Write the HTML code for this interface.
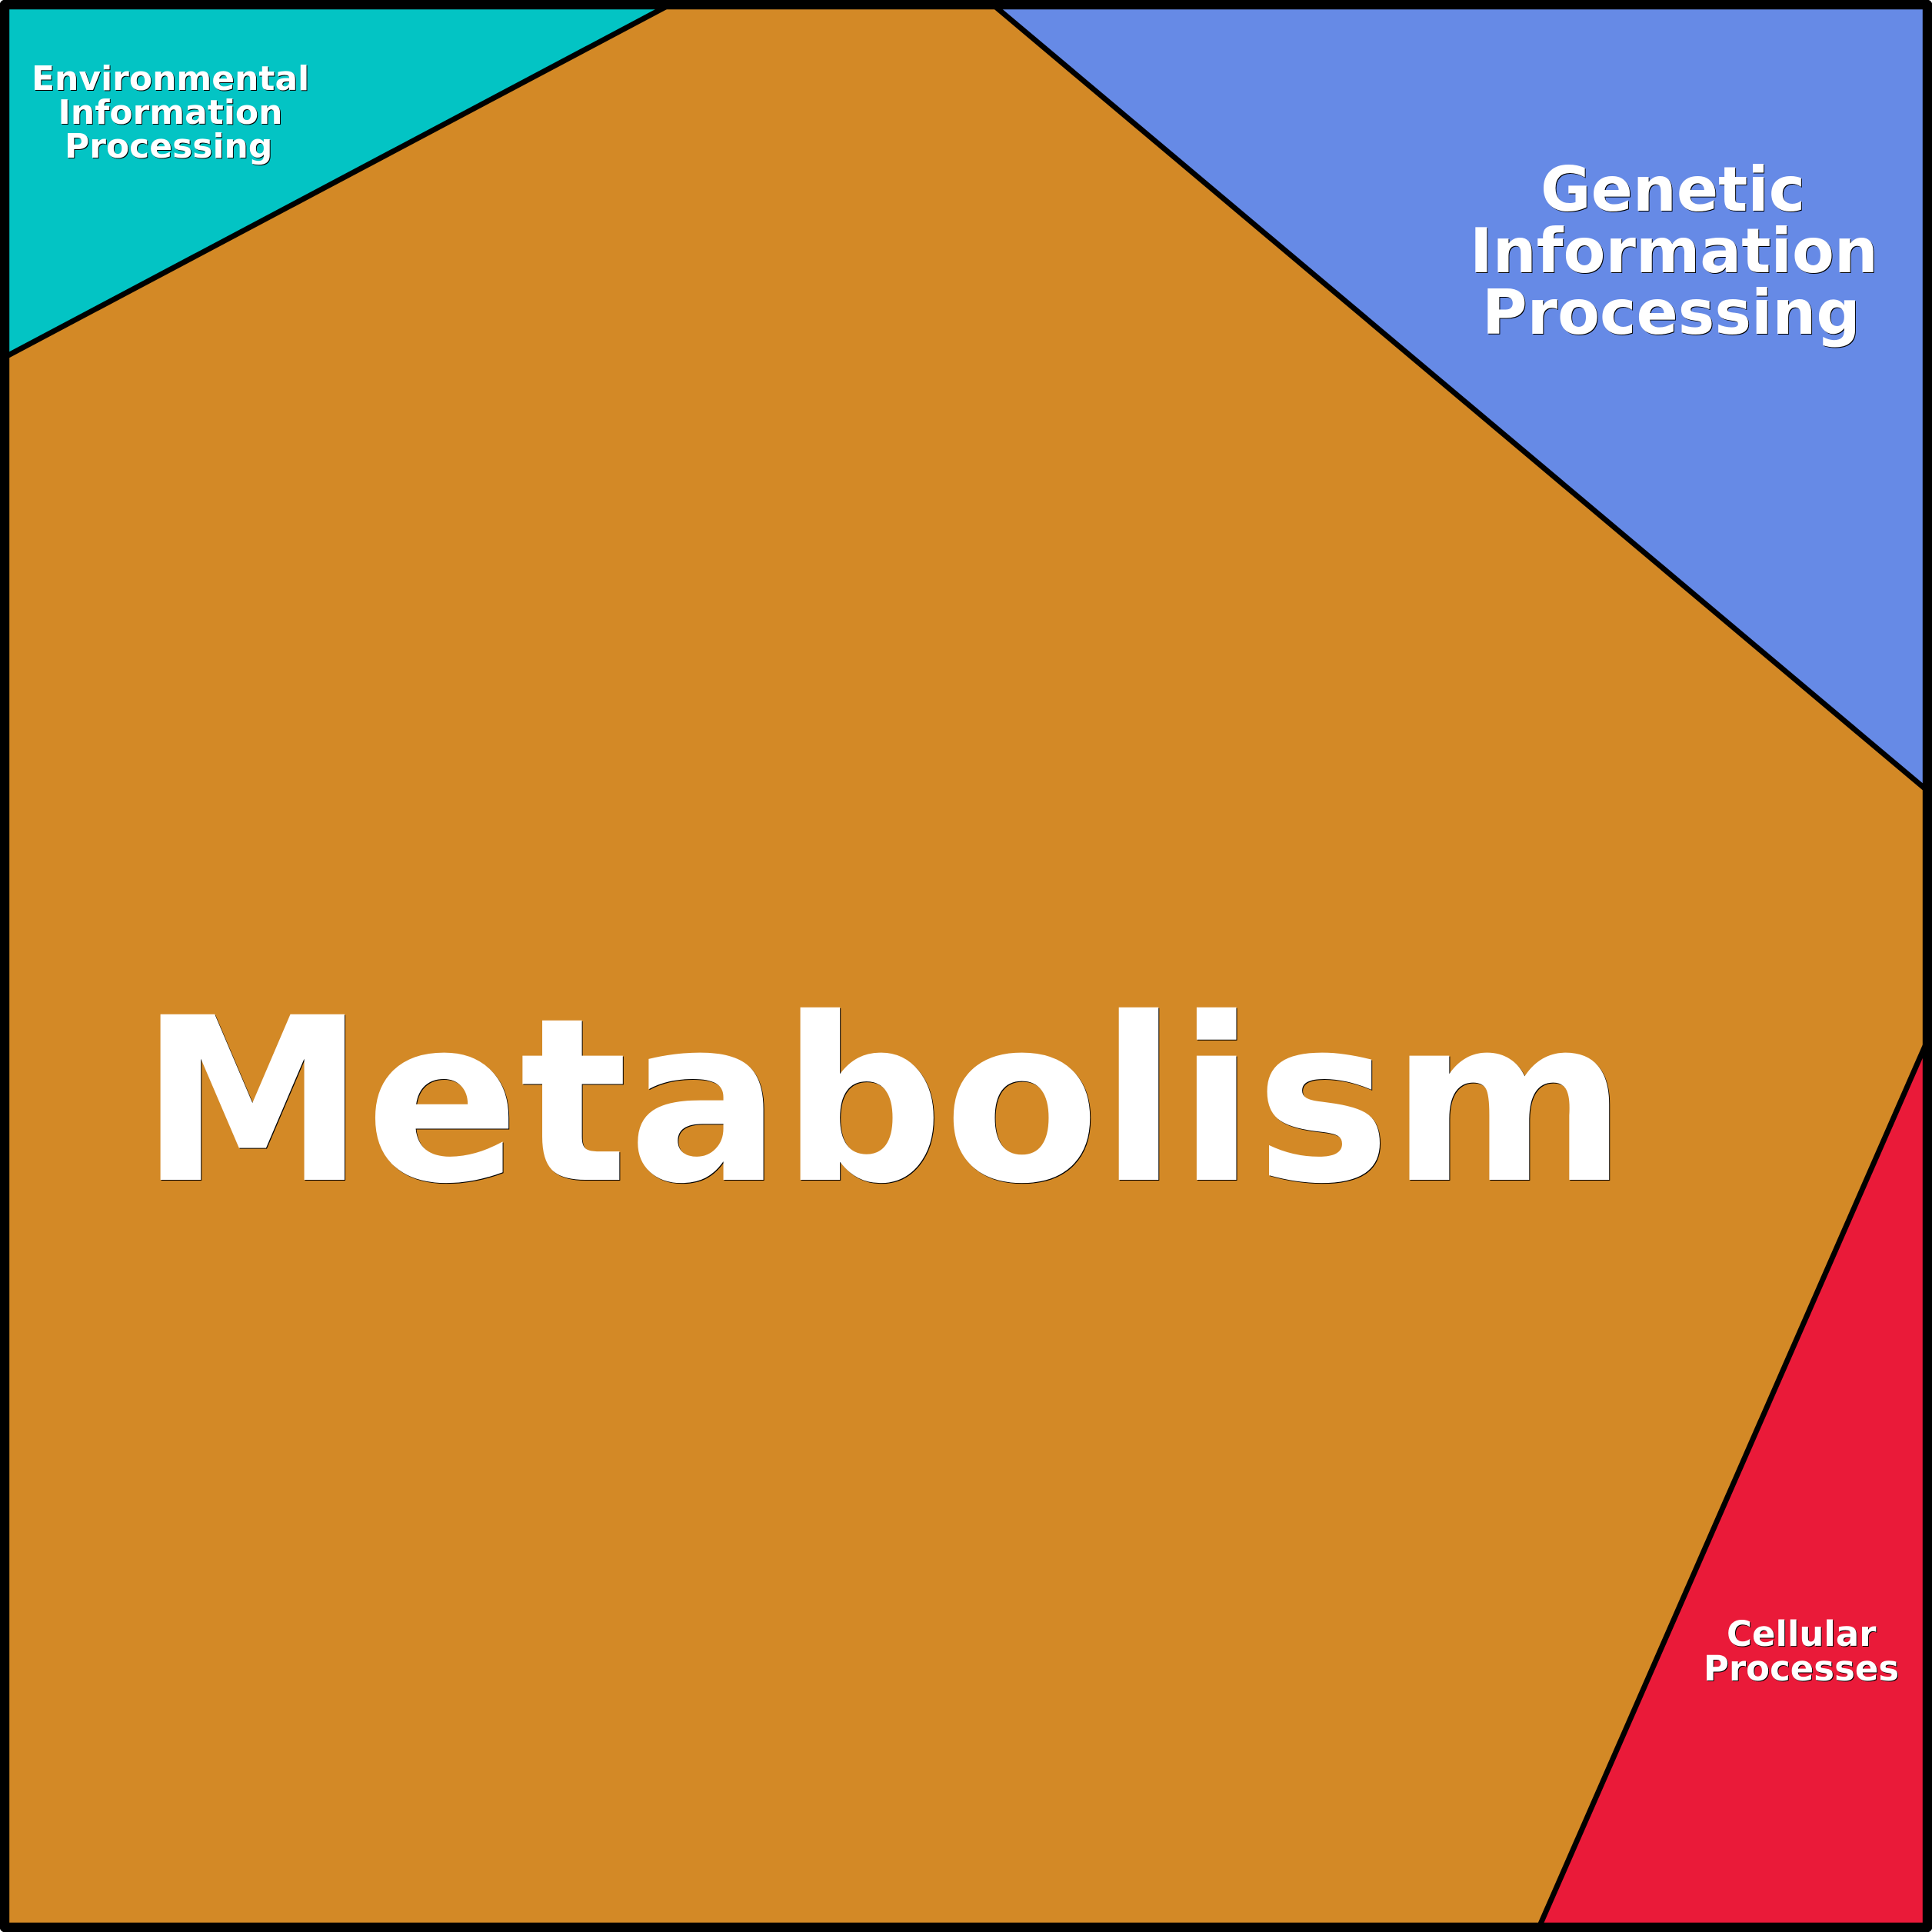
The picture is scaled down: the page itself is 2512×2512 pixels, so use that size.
<!DOCTYPE html>
<html>
<head>
<meta charset="utf-8">
<style>
html,body{margin:0;padding:0;background:#fff;}
svg{display:block;}
text{font-family:"DejaVu Sans",sans-serif;font-weight:bold;}
</style>
</head>
<body>
<svg xmlns="http://www.w3.org/2000/svg" width="2512" height="2512" viewBox="0 0 2512 2512">
  <rect x="6" y="6" width="2500" height="2500" fill="#D38926"/>
  <polygon points="6,463.7 864,6 6,6" fill="#03C4C4"/>
  <polygon points="1291,6 2506,1028 2506,6" fill="#668AE6"/>
  <polygon points="2506,1353 2506,2506 2001,2506" fill="#EA1A39"/>
  <g stroke="#000" stroke-width="7" fill="none">
    <line x1="6" y1="464.5" x2="871" y2="6"/>
    <line x1="1291" y1="6" x2="2506" y2="1028"/>
    <line x1="2506" y1="1353" x2="2001" y2="2506"/>
  </g>
  <rect x="6" y="6" width="2500" height="2500" fill="none" stroke="#000" stroke-width="12.4" stroke-linejoin="round"/>

  <g fill="#000" transform="translate(1 1)">
    <text x="181.5" y="1534" font-size="295.2">Metabolism</text>
    <text x="41" y="117" font-size="44">Environmental</text>
    <text x="75.5" y="161" font-size="44">Information</text>
    <text x="84" y="205" font-size="44">Processing</text>
    <text x="2003" y="274" font-size="80">Genetic</text>
    <text x="1911" y="354" font-size="80">Information</text>
    <text x="1927" y="434" font-size="80">Processing</text>
    <text x="2245" y="2140" font-size="45">Cellular</text>
    <text x="2215" y="2185" font-size="45">Processes</text>
  </g>
  <g fill="#fff">
    <text x="181.5" y="1534" font-size="295.2">Metabolism</text>
    <text x="41" y="117" font-size="44">Environmental</text>
    <text x="75.5" y="161" font-size="44">Information</text>
    <text x="84" y="205" font-size="44">Processing</text>
    <text x="2003" y="274" font-size="80">Genetic</text>
    <text x="1911" y="354" font-size="80">Information</text>
    <text x="1927" y="434" font-size="80">Processing</text>
    <text x="2245" y="2140" font-size="45">Cellular</text>
    <text x="2215" y="2185" font-size="45">Processes</text>
  </g>
</svg>
</body>
</html>
